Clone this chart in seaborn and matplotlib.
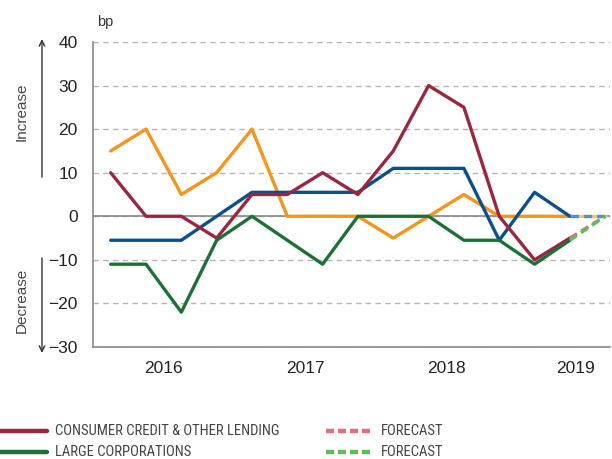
import matplotlib
matplotlib.use("Agg")
import matplotlib.pyplot as plt
from matplotlib.lines import Line2D
import seaborn as sns
import pandas as pd


# Quarterly data, 2016 Q1 .. 2019 Q3 (last quarter is the forecast)
quarters = ["2016Q1", "2016Q2", "2016Q3", "2016Q4",
            "2017Q1", "2017Q2", "2017Q3", "2017Q4",
            "2018Q1", "2018Q2", "2018Q3", "2018Q4",
            "2019Q1", "2019Q2", "2019Q3"]
consumer = [10, 0, 0, -5, 5, 5, 10, 5, 15, 30, 25, 0, -10, -5]
large_corp = [-11, -11, -22, -5.5, 0, -5.5, -11, 0, 0, 0, -5.5, -5.5, -11, -5.5]
small_firms = [-5.5, -5.5, -5.5, 0, 5.5, 5.5, 5.5, 5.5, 11, 11, 11, -5.5, 5.5, 0]
mortgages = [15, 20, 5, 10, 20, 0, 0, 0, -5, 0, 5, 0, 0, 0]
forecast = {"consumer": 0, "large_corp": 0, "small_firms": 0, "mortgages": 0}

years = ["2016", "2017", "2018", "2019"]
year_pos = [1.5, 5.5, 9.5, 13.15]

colors = {"consumer": "#9b2640", "large_corp": "#1e7038",
          "small_firms": "#0d4f8b", "mortgages": "#f7941d"}
fc_colors = {"consumer": "#e0707c", "large_corp": "#5cbf5c",
             "small_firms": "#5a8fc4", "mortgages": "#f8c27e"}

series = {"mortgages": mortgages, "small_firms": small_firms,
          "consumer": consumer, "large_corp": large_corp}

sns.set_style("white")
plt.rcParams["font.family"] = ["Liberation Sans", "DejaVu Sans"]

fig = plt.figure(figsize=(6.12, 4.59), dpi=100)
ax = fig.add_axes([0.152, 0.244, 0.845, 0.6645])

ax.axhline(0, color="#888888", lw=1.2, zorder=1)

for name, vals in series.items():
    df = pd.DataFrame({"x": range(len(vals)), "y": vals})
    sns.lineplot(data=df, x="x", y="y", ax=ax, color=colors[name],
                 lw=2.4, zorder=3)
    fc = pd.DataFrame({"x": [len(vals) - 1, len(vals)],
                       "y": [vals[-1], forecast[name]]})
    ls = "-" if name == "mortgages" else (0, (2.5, 1.5))
    sns.lineplot(data=fc, x="x", y="y", ax=ax, color=fc_colors[name],
                 lw=2.4, linestyle=ls, zorder=3)

ax.set_xlim(-0.5, 14.14)
ax.set_ylim(-30, 40)
ax.set_yticks(range(-30, 41, 10))
ax.yaxis.grid(True, color="#b5b5b5", linestyle=(0, (4, 3)), lw=1)
ax.set_axisbelow(True)

ax.set_xticks([3.5, 7.5, 11.5])
ax.set_xticklabels([])
ax.tick_params(axis="x", direction="in", length=5, color="#888888", width=1)
ax.tick_params(axis="y", length=0, labelsize=12.5, pad=11, labelcolor="#222222")
for y, lab in zip(year_pos, years):
    ax.text(y, -0.07, lab, transform=ax.get_xaxis_transform(),
            ha="center", va="center", fontsize=12.5, color="#222222")

for s in ["top", "right"]:
    ax.spines[s].set_visible(False)
for s in ["left", "bottom"]:
    ax.spines[s].set_color("#888888")
    ax.spines[s].set_linewidth(1.2)
ax.set_xlabel("")
ax.set_ylabel("")

fig.text(0.158, 0.952, "bp", fontsize=10.5, color="#333333", ha="left", va="center")
fig.text(0.036, 0.756, "Increase", rotation=90, fontsize=11, color="#444444",
         ha="center", va="center")
fig.text(0.036, 0.346, "Decrease", rotation=90, fontsize=11, color="#444444",
         ha="center", va="center")
ax.annotate("", xy=(0.0686, 0.921), xytext=(0.0686, 0.608),
            xycoords="figure fraction", textcoords="figure fraction",
            arrowprops=dict(arrowstyle="->", color="#333333", lw=1))
ax.annotate("", xy=(0.0686, 0.225), xytext=(0.0686, 0.444),
            xycoords="figure fraction", textcoords="figure fraction",
            arrowprops=dict(arrowstyle="->", color="#333333", lw=1))

# legend, laid out by hand in figure pixels
W, H = 612, 459
legend_labels = ["CONSUMER CREDIT & OTHER LENDING", "LARGE CORPORATIONS",
                 "FORECAST", "FORECAST"]
legend_colors = [colors["consumer"], colors["large_corp"],
                 fc_colors["consumer"], fc_colors["large_corp"]]
legend_styles = ["-", "-", (0, (1.8, 0.9)), (0, (1.8, 0.9))]
col_x = [0, 326]
row_y = [431, 452]
for i, (lab, c, ls) in enumerate(zip(legend_labels, legend_colors, legend_styles)):
    x0 = col_x[i // 2]
    y0 = 1 - row_y[i % 2] / H
    fig.add_artist(Line2D([x0 / W, (x0 + 47) / W], [y0, y0], color=c, lw=3.2,
                          linestyle=ls, transform=fig.transFigure))
    fig.text((x0 + 55) / W, y0, lab, ha="left", va="center", color="#444444",
             fontsize=10.5, family=["Roboto Condensed", "Liberation Sans Narrow",
                                    "Liberation Sans"])

fig.savefig("out.png", dpi=100)
plt.close()
